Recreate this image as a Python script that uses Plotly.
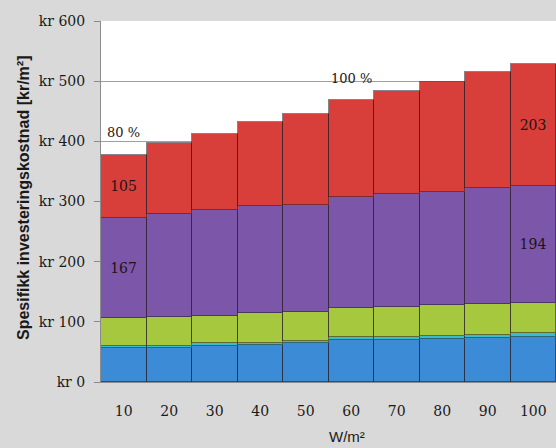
import plotly.graph_objects as go

categories = ["10", "20", "30", "40", "50", "60", "70", "80", "90", "100"]
blue = [56, 57, 60.5, 61.5, 64, 69.5, 69.5, 71, 73, 75]
teal = [4, 3.5, 3.5, 4, 4, 4.5, 5.5, 5, 5.5, 6.5]
green = [46, 47.5, 46.5, 48.5, 48, 49, 50, 51.5, 51.5, 50.5]
purple = [167, 172, 175, 178, 178, 184.5, 187, 189, 192, 194]
red = [105, 117.5, 126, 139.5, 151, 162, 171, 182.5, 193, 203]

labeled_bars = [0, 9]
y_ticks = [0, 100, 200, 300, 400, 500, 600]
y_ticktext = ["kr " + str(v) for v in y_ticks]
pct_labels = [("10", 415, "80 %"), ("60", 504, "100 %")]

SERIF = "DejaVu Serif, Liberation Serif"
SANS = "Liberation Sans, Arial"

series = [
    ("blue", blue, "#3b8bd7"),
    ("teal", teal, "#37bccd"),
    ("green", green, "#a5c83f"),
    ("purple", purple, "#7c56a9"),
    ("red", red, "#d83f3b"),
]

fig = go.Figure()
for name, vals, col in series:
    if name in ("purple", "red"):
        txt = [str(int(round(v))) if i in labeled_bars else "" for i, v in enumerate(vals)]
    else:
        txt = ["" for _ in vals]
    fig.add_trace(go.Bar(
        x=categories, y=vals, name=name,
        marker=dict(color=col, line=dict(color="rgba(40,30,40,0.55)", width=1)),
        text=txt, textposition="inside", insidetextanchor="middle",
        textfont=dict(family=SERIF, size=14, color="#1e1414"),
        textangle=0,
        hoverinfo="skip",
    ))

for xc, yv, t in pct_labels:
    fig.add_annotation(x=categories.index(xc), y=yv, text=t, showarrow=False, xref="x", yref="y",
                       font=dict(family=SERIF, size=13, color="#1e1414"))

fig.add_annotation(x=-0.192, y=0.51, xref="paper", yref="paper", text="Spesifikk investeringskostnad [kr/m²]",
                   textangle=-90, showarrow=False,
                   font=dict(family=SANS, size=16, color="#1a1a1a", weight="bold"))

fig.add_annotation(x=0.54, y=-0.152, xref="paper", yref="paper", text="W/m²",
                   showarrow=False, yanchor="middle",
                   font=dict(family=SANS, size=15, color="#1a1a1a"))

fig.update_layout(
    width=556, height=448,
    margin=dict(l=101, r=0, t=21, b=66),
    paper_bgcolor="#d9d9d9", plot_bgcolor="#ffffff",
    barmode="stack", bargap=0,
    showlegend=False,
    uniformtext=dict(minsize=12, mode="show"),
)
fig.update_xaxes(
    type="category", range=[-0.5, len(categories) - 0.5],
    showgrid=False, showline=True, linecolor="#8c8c8c", linewidth=1,
    ticks="", ticklabelstandoff=16,
    tickfont=dict(family=SERIF, size=14, color="#1a1a1a"),
    automargin=False,
)
fig.update_yaxes(
    range=[0, 600], tickvals=y_ticks, ticktext=y_ticktext,
    showgrid=True, gridcolor="#a0a0a0", gridwidth=1,
    showline=True, linecolor="#8c8c8c", linewidth=1,
    ticks="outside", ticklen=6, tickcolor="#8c8c8c", ticklabelstandoff=6,
    tickfont=dict(family=SERIF, size=14, color="#1a1a1a"),
    zeroline=False, automargin=False,
)

fig.write_html("out.html", post_script="document.body.style.margin='0';",
               config={"displayModeBar": False})
